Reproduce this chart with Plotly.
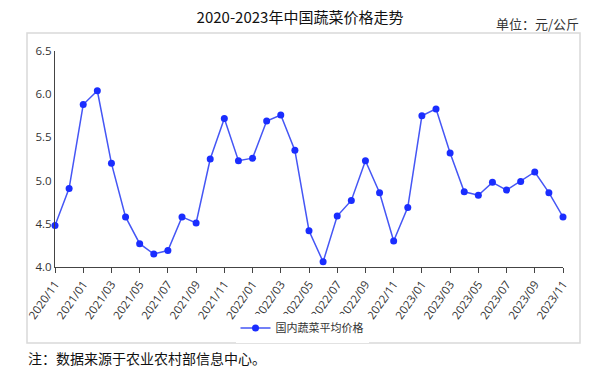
import plotly.graph_objects as go

months = [
    "2020/11", "2020/12",
    "2021/01", "2021/02", "2021/03", "2021/04", "2021/05", "2021/06",
    "2021/07", "2021/08", "2021/09", "2021/10", "2021/11", "2021/12",
    "2022/01", "2022/02", "2022/03", "2022/04", "2022/05", "2022/06",
    "2022/07", "2022/08", "2022/09", "2022/10", "2022/11", "2022/12",
    "2023/01", "2023/02", "2023/03", "2023/04", "2023/05", "2023/06",
    "2023/07", "2023/08", "2023/09", "2023/10", "2023/11",
]
prices = [
    4.48, 4.91,
    5.88, 6.04, 5.20, 4.58, 4.27, 4.15,
    4.19, 4.58, 4.51, 5.25, 5.72, 5.23,
    5.26, 5.69, 5.76, 5.35, 4.42, 4.06,
    4.59, 4.77, 5.23, 4.86, 4.30, 4.69,
    5.75, 5.83, 5.32, 4.87, 4.83, 4.98,
    4.89, 4.99, 5.10, 4.86, 4.58,
]
tick_labels = months[::2]
y_ticks = [4.0, 4.5, 5.0, 5.5, 6.0, 6.5]

series_name = "国内蔬菜平均价格"
title_text = "2020-2023年中国蔬菜价格走势"
unit_text = "单位：元/公斤"
note_text = "注：数据来源于农业农村部信息中心。"

W, H = 610, 371
L, R, T, B = 55, 47, 51, 104
pw, ph = W - L - R, H - T - B

def px_to_paper_x(px):
    return (px - L) / pw

def px_to_paper_y(py):
    return (H - B - py) / ph

fig = go.Figure()
fig.add_trace(go.Scatter(
    x=months, y=prices, mode="lines+markers", name=series_name,
    line=dict(color="#4556f5", width=1.5),
    marker=dict(color="#1a2dff", size=7),
    cliponaxis=False,
))

font_cjk = "Noto Sans CJK SC, Noto Sans, sans-serif"

fig.update_layout(
    width=W, height=H,
    margin=dict(l=L, r=R, t=T, b=B, autoexpand=False),
    paper_bgcolor="white", plot_bgcolor="white",
    font=dict(family=font_cjk, size=11, color="#444"),
    showlegend=True,
    legend=dict(orientation="h", x=px_to_paper_x(302), xanchor="center",
                y=px_to_paper_y(328), yanchor="middle",
                font=dict(size=11, color="#333")),
    xaxis=dict(
        type="category", range=[0, len(months) - 1],
        tickmode="array", tickvals=tick_labels, ticktext=tick_labels,
        tickangle=-55, ticks="outside", ticklen=5, tickcolor="#444",
        showline=True, linecolor="#444", linewidth=1.2,
        showgrid=False, zeroline=False, automargin=False,
        tickfont=dict(size=11.5, color="#333", family="Open Sans, sans-serif"),
    ),
    yaxis=dict(
        range=[4.0, 6.5], tickvals=y_ticks, tickformat=".1f",
        showline=True, linecolor="#444", linewidth=1.2,
        showgrid=False, zeroline=False, ticks="", ticklen=0, automargin=False,
        tickfont=dict(size=11.5, color="#333", family="Open Sans, sans-serif"),
    ),
    title=dict(text=title_text, xref="paper", x=px_to_paper_x(300), xanchor="center",
               yref="container", y=1 - 18 / H, yanchor="middle",
               font=dict(size=15, color="#111", family=font_cjk)),
    shapes=[dict(type="rect", xref="paper", yref="paper",
                 x0=px_to_paper_x(27), x1=px_to_paper_x(580),
                 y0=px_to_paper_y(343), y1=px_to_paper_y(33),
                 line=dict(color="#d9d9d9", width=1.5), layer="below")],
    annotations=[
        dict(text=unit_text, xref="paper", yref="paper",
             x=px_to_paper_x(581), y=px_to_paper_y(23), xanchor="right", yanchor="middle",
             showarrow=False, font=dict(size=13, color="#333", family=font_cjk)),
        dict(text=note_text, xref="paper", yref="paper",
             x=px_to_paper_x(26), y=px_to_paper_y(358), xanchor="left", yanchor="middle",
             showarrow=False, font=dict(size=14, color="#111", family=font_cjk)),
    ],
)

fig.write_html("out.html", config={"displayModeBar": False},
               post_script="document.body.style.margin='0';")
